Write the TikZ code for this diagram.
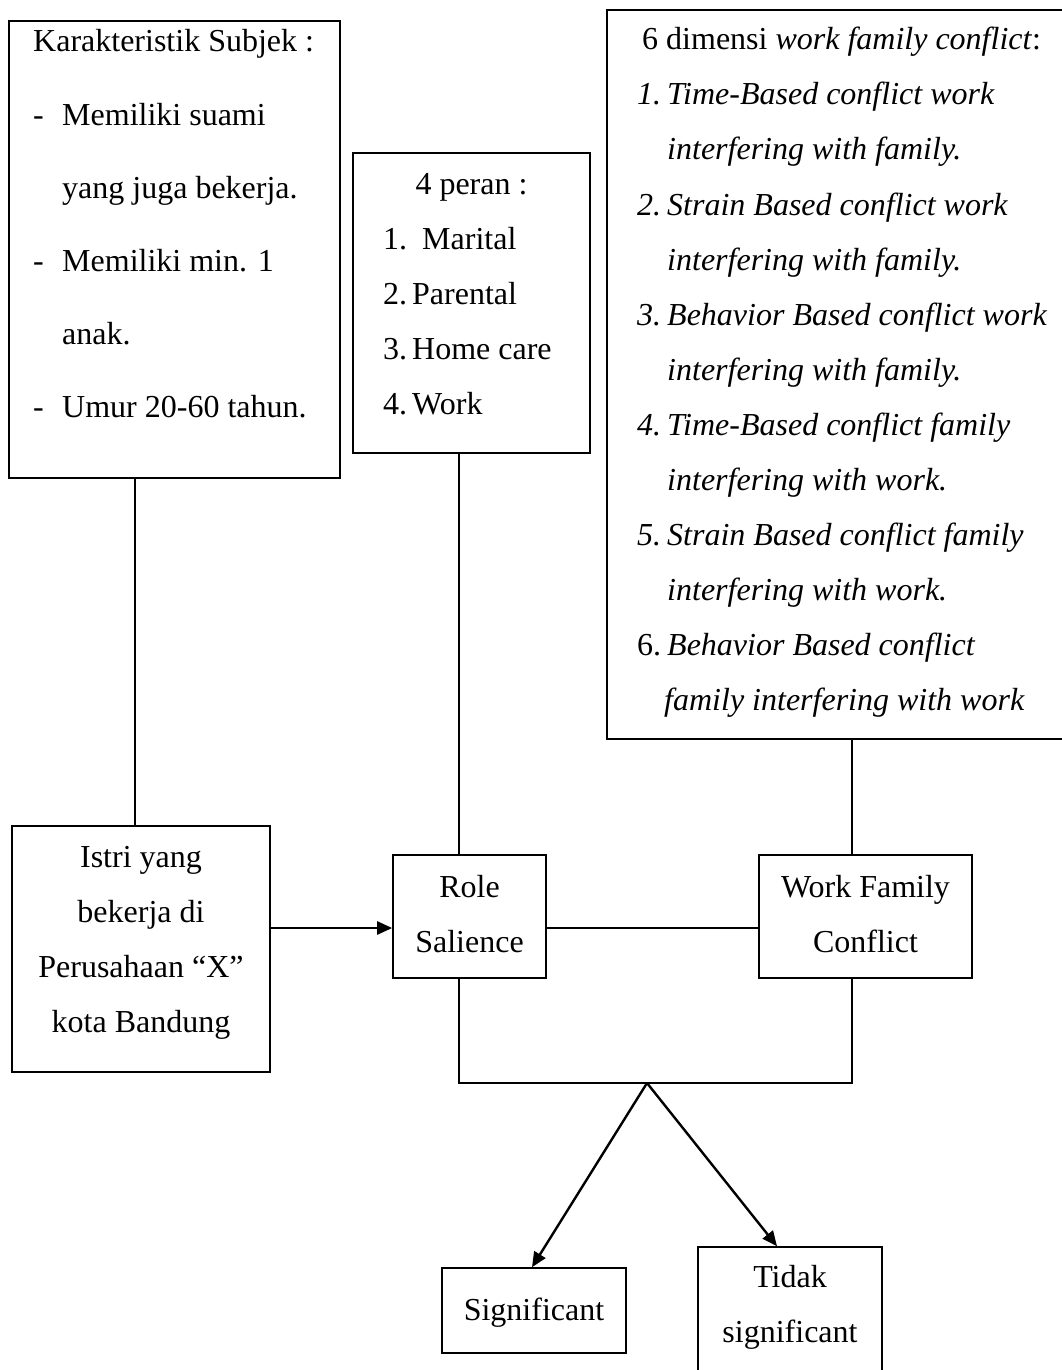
\documentclass[tikz,border=0pt]{standalone}
\usepackage{fontspec}
\setmainfont{Liberation Serif}
\usetikzlibrary{arrows.meta}
\begin{document}
\begin{tikzpicture}[x=1pt,y=-1pt,
  box/.style={draw, line width=1.6pt, inner sep=0pt},
  txt/.style={inner sep=0pt, font=\fontsize{32}{40}\selectfont},
  conn/.style={line width=1.6pt},
  arr/.style={line width=2.4pt, -{Triangle[length=15pt,width=13pt]}}]
\useasboundingbox (0,0) rectangle (1062,1370);
\clip (0,0) rectangle (1062,1370);
\fill[white] (0,0) rectangle (1062,1370);

% boxes
\node[box, minimum width=331pt, minimum height=457pt] (kar) at (174.5,249.5) {};
\node[box, minimum width=237pt, minimum height=300pt] (peran) at (471.5,303) {};
\node[box, minimum width=490pt, minimum height=729pt] (dim) at (852,374.5) {};
\node[box, minimum width=258pt, minimum height=246pt] (istri) at (141,949) {};
\node[box, minimum width=153pt, minimum height=123pt] (role) at (469.5,916.5) {};
\node[box, minimum width=213pt, minimum height=123pt] (wfc) at (865.5,916.5) {};
\node[box, minimum width=184pt, minimum height=85pt] (sig) at (534,1310.5) {};
\node[box, minimum width=184pt, minimum height=153pt] (tidak) at (790,1323.5) {};

% box 1 text
\node[txt, anchor=base west] (k0) at (33,52) {Karakteristik Subjek :};
\node[txt, anchor=base west] (k1d) at (33,125) {-};
\node[txt, anchor=base west] (k1) at (62,125) {Memiliki suami};
\node[txt, anchor=base west] (k2) at (62,198) {yang juga bekerja.};
\node[txt, anchor=base west] (k3d) at (33,271) {-};
\node[txt, anchor=base west] (k3) at (62,271) {Memiliki min. 1};
\node[txt, anchor=base west] (k4) at (62,344) {anak.};
\node[txt, anchor=base west] (k5d) at (33,417) {-};
\node[txt, anchor=base west] (k5) at (62,417) {Umur 20-60 tahun.};

% box 2 text
\node[txt, anchor=base] (p0) at (471.5,194) {4 peran :};
\node[txt, anchor=base west] (p1n) at (383,249) {1.};
\node[txt, anchor=base west] (p1) at (422,249) {Marital};
\node[txt, anchor=base west] (p2n) at (383,304) {2.};
\node[txt, anchor=base west] (p2) at (412,304) {Parental};
\node[txt, anchor=base west] (p3n) at (383,359) {3.};
\node[txt, anchor=base west] (p3) at (412,359) {Home care};
\node[txt, anchor=base west] (p4n) at (383,414) {4.};
\node[txt, anchor=base west] (p4) at (412,414) {Work};

% box 3 text
\node[txt, anchor=base west] (d0) at (642,50) {6 dimensi \textit{work family conflict}:};
\node[txt, anchor=base west] (d1n) at (637,105) {\textit{1.}};
\node[txt, anchor=base west] (d1) at (667,105) {\textit{Time-Based conflict work}};
\node[txt, anchor=base west] (d1b) at (667,160) {\textit{interfering with family.}};
\node[txt, anchor=base west] (d2n) at (637,215) {\textit{2.}};
\node[txt, anchor=base west] (d2) at (667,215) {\textit{Strain Based conflict work}};
\node[txt, anchor=base west] (d2b) at (667,270) {\textit{interfering with family.}};
\node[txt, anchor=base west] (d3n) at (637,325) {\textit{3.}};
\node[txt, anchor=base west] (d3) at (667,325) {\textit{Behavior Based conflict work}};
\node[txt, anchor=base west] (d3b) at (667,380) {\textit{interfering with family.}};
\node[txt, anchor=base west] (d4n) at (637,435) {\textit{4.}};
\node[txt, anchor=base west] (d4) at (667,435) {\textit{Time-Based conflict family}};
\node[txt, anchor=base west] (d4b) at (667,490) {\textit{interfering with work.}};
\node[txt, anchor=base west] (d5n) at (637,545) {\textit{5.}};
\node[txt, anchor=base west] (d5) at (667,545) {\textit{Strain Based conflict family}};
\node[txt, anchor=base west] (d5b) at (667,600) {\textit{interfering with work.}};
\node[txt, anchor=base west] (d6n) at (637,655) {6.};
\node[txt, anchor=base west] (d6) at (667,655) {\textit{Behavior Based conflict}};
\node[txt, anchor=base west] (d6b) at (664,710) {\textit{family interfering with work}};

% other box texts
\node[txt, anchor=base] (i1) at (141,867) {Istri yang};
\node[txt, anchor=base] (i2) at (141,922) {bekerja di};
\node[txt, anchor=base] (i3) at (141,977) {Perusahaan “X”};
\node[txt, anchor=base] (i4) at (141,1032) {kota Bandung};
\node[txt, anchor=base] (r1) at (469.5,897) {Role};
\node[txt, anchor=base] (r2) at (469.5,952) {Salience};
\node[txt, anchor=base] (w1) at (865.5,897) {Work Family};
\node[txt, anchor=base] (w2) at (865.5,952) {Conflict};
\node[txt, anchor=base] (s1) at (534,1320) {Significant};
\node[txt, anchor=base] (t1) at (790,1287) {Tidak};
\node[txt, anchor=base] (t2) at (790,1342) {significant};

% helper coordinates
\coordinate (xa) at (135,0);
\coordinate (xb) at (459,0);
\coordinate (xc) at (852,0);
\coordinate (ay) at (0,928);
\coordinate (apex) at (647,1083);
\coordinate (st) at (532,0);
\coordinate (tt) at (777,0);

% connectors
\draw[conn] (kar.south -| xa) -- (istri.north -| xa);
\draw[conn] (peran.south -| xb) -- (role.north -| xb);
\draw[conn] (dim.south -| xc) -- (wfc.north -| xc);
\draw[arr] (istri.east |- ay) -- (role.west |- ay);
\draw[conn] (role.east |- ay) -- (wfc.west |- ay);
\draw[conn] (role.south -| xb) -- (xb |- apex) -- (xc |- apex) -- (wfc.south -| xc);
\draw[arr] (apex) -- (sig.north -| st);
\draw[arr] (apex) -- (tidak.north -| tt);
\end{tikzpicture}
\end{document}
